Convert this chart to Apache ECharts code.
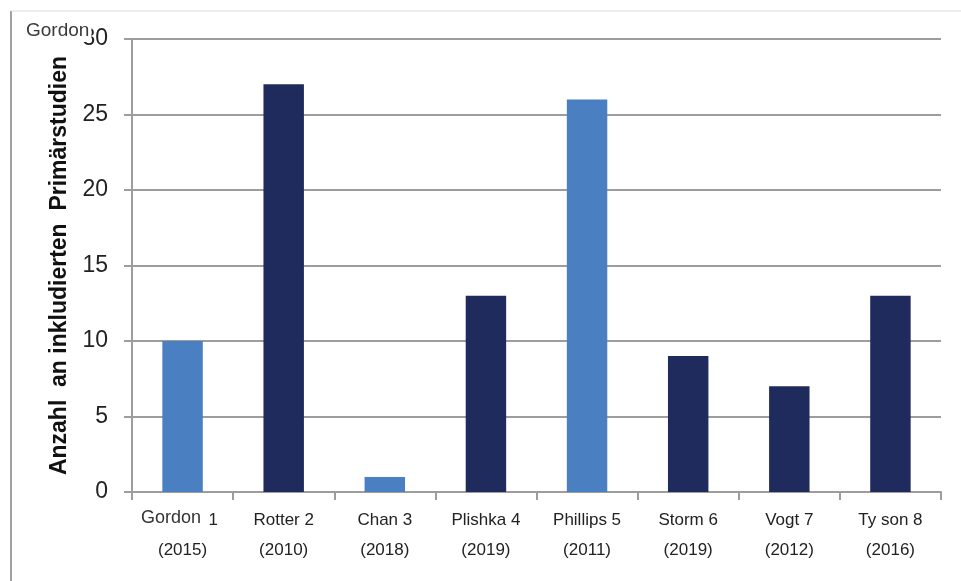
<!DOCTYPE html>
<html>
<head>
<meta charset="utf-8">
<script src="https://cdn.jsdelivr.net/npm/echarts@6/dist/echarts.min.js"></script>
<style>
  html, body { margin: 0; padding: 0; background: #fff; }
  #chart { width: 961px; height: 581px; }
</style>
</head>
<body>
<div id="chart"></div>
<script>
// Reviews and their publication years
const studies = ['Gordon 1', 'Rotter 2', 'Chan 3', 'Plishka 4', 'Phillips 5', 'Storm 6', 'Vogt 7', 'Ty son 8'];
const years = ['2015', '2010', '2018', '2019', '2011', '2019', '2012', '2016'];
// Number of included primary studies per review
const primaryCounts = [10, 27, 1, 13, 26, 9, 7, 13];
// Which reviews are highlighted in the lighter shade
const highlighted = [true, false, true, false, true, false, false, false];
const yTicks = [0, 5, 10, 15, 20, 25, 30];

const LIGHT = '#4a80c1';
const DARK = '#1f2a5d';
const GRID_GRAY = '#9d9d9d';
const FONT = 'Liberation Sans, Arial, sans-serif';

const chart = echarts.init(document.getElementById('chart'));

const categories = studies.map((s, i) => s + '\n(' + years[i] + ')');
const barData = primaryCounts.map((v, i) => ({
  value: v,
  itemStyle: { color: highlighted[i] ? LIGHT : DARK }
}));

chart.setOption({
  animation: false,
  backgroundColor: '#ffffff',
  grid: { left: 132, right: 20, top: 39, bottom: 89, containLabel: false },
  xAxis: {
    type: 'category',
    data: categories,
    axisLine: { lineStyle: { color: GRID_GRAY, width: 2 } },
    axisTick: { show: true, length: 8, lineStyle: { color: GRID_GRAY, width: 2 } },
    axisLabel: {
      fontFamily: FONT,
      fontSize: 17,
      lineHeight: 30,
      color: '#222',
      margin: 13,
      interval: 0
    }
  },
  yAxis: {
    type: 'value',
    min: yTicks[0],
    max: yTicks[yTicks.length - 1],
    interval: 5,
    name: 'Anzahl  an inkludierten  Primärstudien',
    nameLocation: 'middle',
    nameGap: 60,
    nameTextStyle: {
      fontFamily: FONT,
      fontSize: 23,
      fontWeight: 'bold',
      color: '#111'
    },
    axisLine: { show: true, lineStyle: { color: GRID_GRAY, width: 2 } },
    axisTick: { show: true, length: 8, lineStyle: { color: GRID_GRAY, width: 2 } },
    splitLine: { show: true, lineStyle: { color: GRID_GRAY, width: 2 } },
    axisLabel: {
      fontFamily: FONT,
      fontSize: 23,
      color: '#222',
      margin: 24
    }
  },
  series: [{
    type: 'bar',
    data: barData,
    barWidth: '40%'
  }],
  graphic: [
    // outer frame edges
    { type: 'line', z: 0, shape: { x1: 11, y1: 11, x2: 11, y2: 581 }, style: { stroke: '#a0a0a0', lineWidth: 2 } },
    { type: 'line', z: 0, shape: { x1: 11, y1: 11, x2: 961, y2: 11 }, style: { stroke: '#dcdcdc', lineWidth: 1 } },
    // floating "Gordon" captions
    {
      type: 'text', z: 100, zlevel: 1, left: 26, top: 21,
      style: {
        text: 'Gordon', fontFamily: FONT, fontSize: 19,
        fill: '#3a3a3a', backgroundColor: '#ffffff', padding: [0, 2, 2, 0]
      }
    },
    {
      type: 'text', z: 100, zlevel: 1, left: 141, top: 508,
      style: {
        text: 'Gordon', fontFamily: FONT, fontSize: 18,
        fill: '#333', backgroundColor: '#ffffff', padding: [1, 5, 1, 0]
      }
    }
  ]
});
</script>
</body>
</html>
